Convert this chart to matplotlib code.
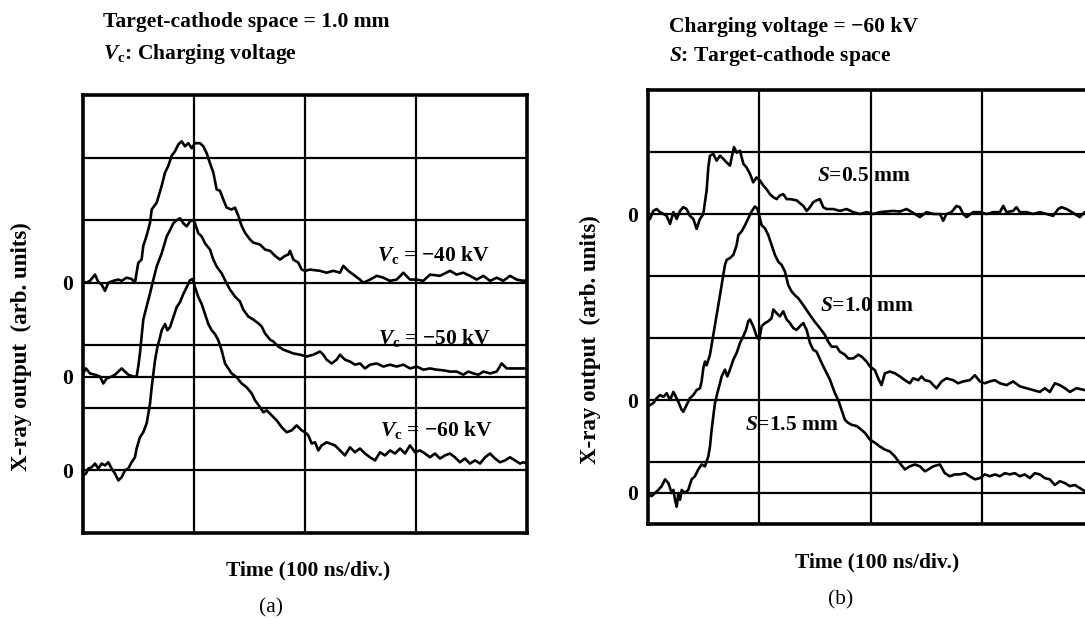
import matplotlib
matplotlib.use("Agg")
import matplotlib.pyplot as plt
import numpy as np

# Fonts: Times-like bold everywhere, italic symbols via mathtext
plt.rcParams["font.family"] = "Liberation Serif"
plt.rcParams["font.weight"] = "bold"
plt.rcParams["mathtext.fontset"] = "custom"
plt.rcParams["mathtext.rm"] = "Liberation Serif:bold"
plt.rcParams["mathtext.it"] = "Liberation Serif:bold:italic"
plt.rcParams["mathtext.bf"] = "Liberation Serif:bold"

# ---------------- data, panel (a): time in divisions, output in divisions above its own zero
t_40 = [0.0, 0.027, 0.063, 0.108, 0.138, 0.168, 0.198, 0.228, 0.273, 0.318, 0.348, 0.393, 0.438, 0.468,
        0.498, 0.528, 0.543, 0.573, 0.604, 0.619, 0.664, 0.709, 0.739, 0.769, 0.799, 0.829, 0.859, 0.889,
        0.919, 0.949, 0.979, 1.009, 1.054, 1.084, 1.114, 1.144, 1.174, 1.204, 1.234, 1.264, 1.294, 1.339,
        1.369, 1.399, 1.429, 1.459, 1.505, 1.535, 1.595, 1.640, 1.685, 1.730, 1.775, 1.820, 1.850, 1.865,
        1.895, 1.940, 1.970, 2.000, 2.045, 2.135, 2.195, 2.255, 2.315, 2.345, 2.390, 2.435, 2.495, 2.526,
        2.586, 2.646, 2.706, 2.766, 2.826, 2.886, 2.946, 3.006, 3.066, 3.126, 3.216, 3.306, 3.366, 3.426,
        3.486, 3.546, 3.607, 3.667, 3.727, 3.787, 3.847, 3.907, 3.967, 4.0]
v_40 = [0.02, 0.0, 0.03, 0.13, 0.01, -0.03, -0.13, 0.0, 0.03, 0.05, 0.03, 0.08, 0.06, 0.0,
        0.32, 0.37, 0.59, 0.75, 0.96, 1.17, 1.28, 1.55, 1.76, 1.87, 2.03, 2.10, 2.21, 2.26,
        2.18, 2.23, 2.15, 2.23, 2.23, 2.18, 2.07, 1.91, 1.76, 1.49, 1.47, 1.33, 1.20, 1.17,
        1.20, 1.07, 0.91, 0.80, 0.69, 0.64, 0.61, 0.53, 0.51, 0.43, 0.37, 0.43, 0.45, 0.51,
        0.37, 0.32, 0.21, 0.19, 0.21, 0.19, 0.16, 0.19, 0.16, 0.27, 0.19, 0.13, 0.05, 0.0,
        0.05, 0.11, 0.08, 0.03, 0.05, 0.16, 0.05, 0.05, 0.03, 0.13, 0.11, 0.19, 0.13, 0.16,
        0.11, 0.05, 0.11, 0.03, 0.08, 0.03, 0.11, 0.05, 0.03, 0.04]

t_50 = [0.0, 0.027, 0.063, 0.108, 0.153, 0.183, 0.213, 0.258, 0.288, 0.318, 0.348, 0.378, 0.408, 0.453,
        0.483, 0.498, 0.513, 0.528, 0.543, 0.573, 0.604, 0.634, 0.664, 0.709, 0.754, 0.784, 0.814, 0.844,
        0.874, 0.904, 0.934, 0.964, 0.994, 1.009, 1.039, 1.069, 1.099, 1.144, 1.174, 1.204, 1.249, 1.294,
        1.324, 1.369, 1.414, 1.444, 1.489, 1.535, 1.580, 1.610, 1.640, 1.685, 1.715, 1.760, 1.805, 1.850,
        1.895, 1.955, 2.015, 2.075, 2.135, 2.165, 2.195, 2.240, 2.285, 2.315, 2.360, 2.405, 2.450, 2.495,
        2.541, 2.586, 2.646, 2.706, 2.766, 2.826, 2.886, 2.946, 3.006, 3.066, 3.126, 3.186, 3.246, 3.306,
        3.366, 3.426, 3.471, 3.517, 3.562, 3.607, 3.667, 3.727, 3.772, 3.817, 3.877, 3.967, 4.0]
v_50 = [0.05, 0.13, 0.05, 0.03, 0.0, -0.11, -0.03, 0.0, 0.03, 0.08, 0.13, 0.08, 0.03, 0.0,
        0.0, 0.16, 0.37, 0.64, 0.91, 1.12, 1.33, 1.55, 1.76, 1.97, 2.24, 2.34, 2.45, 2.50,
        2.53, 2.45, 2.40, 2.48, 2.50, 2.45, 2.29, 2.24, 2.13, 2.03, 1.87, 1.76, 1.65, 1.49,
        1.39, 1.28, 1.20, 1.07, 0.96, 0.91, 0.85, 0.80, 0.69, 0.59, 0.56, 0.48, 0.43, 0.40,
        0.37, 0.35, 0.32, 0.35, 0.40, 0.35, 0.27, 0.21, 0.27, 0.35, 0.27, 0.24, 0.19, 0.21,
        0.13, 0.19, 0.21, 0.16, 0.19, 0.16, 0.19, 0.13, 0.16, 0.11, 0.13, 0.11, 0.10, 0.08,
        0.08, 0.03, 0.08, 0.05, 0.03, 0.08, 0.05, 0.08, 0.21, 0.13, 0.13, 0.13, 0.13]

t_60 = [0.0, 0.027, 0.048, 0.078, 0.108, 0.138, 0.168, 0.198, 0.228, 0.258, 0.288, 0.318, 0.348, 0.378,
        0.408, 0.438, 0.468, 0.483, 0.513, 0.543, 0.573, 0.589, 0.604, 0.619, 0.634, 0.649, 0.670, 0.694,
        0.709, 0.739, 0.760, 0.784, 0.814, 0.844, 0.874, 0.904, 0.934, 0.964, 0.988, 1.009, 1.039, 1.069,
        1.099, 1.129, 1.159, 1.189, 1.219, 1.249, 1.279, 1.309, 1.339, 1.384, 1.429, 1.474, 1.520, 1.550,
        1.595, 1.625, 1.655, 1.700, 1.745, 1.790, 1.835, 1.880, 1.925, 1.970, 2.000, 2.030, 2.060, 2.090,
        2.120, 2.150, 2.195, 2.225, 2.270, 2.315, 2.360, 2.405, 2.450, 2.495, 2.541, 2.586, 2.631, 2.676,
        2.721, 2.766, 2.811, 2.856, 2.901, 2.946, 2.991, 3.036, 3.081, 3.126, 3.171, 3.216, 3.261, 3.306,
        3.351, 3.396, 3.441, 3.486, 3.532, 3.577, 3.622, 3.667, 3.712, 3.757, 3.802, 3.847, 3.892, 3.937,
        3.967, 4.0]
v_60 = [-0.08, -0.05, 0.03, 0.05, 0.11, 0.03, 0.11, 0.08, 0.13, 0.03, -0.05, -0.16, -0.11, 0.0,
        0.03, 0.13, 0.21, 0.35, 0.53, 0.61, 0.75, 0.91, 1.07, 1.33, 1.55, 1.76, 1.97, 2.13,
        2.24, 2.34, 2.24, 2.29, 2.45, 2.61, 2.69, 2.82, 2.93, 3.04, 3.06, 2.93, 2.77, 2.66,
        2.50, 2.34, 2.24, 2.18, 2.08, 1.92, 1.71, 1.63, 1.55, 1.49, 1.39, 1.33, 1.23, 1.12,
        1.01, 0.93, 0.96, 0.88, 0.80, 0.69, 0.61, 0.64, 0.72, 0.64, 0.61, 0.56, 0.43, 0.45,
        0.32, 0.40, 0.45, 0.43, 0.40, 0.32, 0.24, 0.37, 0.29, 0.35, 0.27, 0.21, 0.16, 0.29,
        0.24, 0.32, 0.27, 0.35, 0.27, 0.40, 0.29, 0.32, 0.27, 0.21, 0.27, 0.19, 0.24, 0.27,
        0.21, 0.13, 0.19, 0.11, 0.16, 0.11, 0.21, 0.27, 0.19, 0.13, 0.16, 0.21, 0.16, 0.11,
        0.13, 0.11]

# ---------------- data, panel (b)
t_s05 = [0.0, 0.018, 0.048, 0.078, 0.108, 0.138, 0.168, 0.198, 0.228, 0.258, 0.288, 0.317, 0.347, 0.377,
         0.407, 0.437, 0.467, 0.497, 0.527, 0.542, 0.557, 0.587, 0.617, 0.647, 0.677, 0.707, 0.737, 0.752,
         0.773, 0.797, 0.827, 0.857, 0.886, 0.916, 0.946, 0.976, 1.006, 1.036, 1.066, 1.096, 1.126, 1.156,
         1.186, 1.216, 1.246, 1.276, 1.336, 1.396, 1.426, 1.456, 1.485, 1.515, 1.545, 1.575, 1.605, 1.665,
         1.725, 1.785, 1.845, 1.905, 1.965, 2.024, 2.084, 2.144, 2.204, 2.264, 2.324, 2.354, 2.399, 2.444,
         2.504, 2.564, 2.624, 2.653, 2.683, 2.728, 2.773, 2.803, 2.833, 2.863, 2.923, 2.983, 3.043, 3.103,
         3.163, 3.193, 3.223, 3.282, 3.312, 3.342, 3.402, 3.462, 3.522, 3.582, 3.642, 3.687, 3.717, 3.762,
         3.792, 3.836, 3.881, 3.926, 4.0]
v_s05 = [-0.04, -0.08, 0.05, 0.08, 0.03, 0.0, -0.03, -0.16, 0.03, -0.08, 0.05, 0.11, 0.08, -0.03,
         -0.08, -0.24, -0.08, 0.0, 0.38, 0.75, 0.94, 0.97, 0.86, 0.94, 0.89, 0.83, 0.78, 0.91,
         1.08, 0.99, 1.02, 0.81, 0.75, 0.65, 0.51, 0.59, 0.54, 0.46, 0.40, 0.32, 0.27, 0.24,
         0.30, 0.32, 0.24, 0.24, 0.22, 0.13, 0.05, 0.11, 0.19, 0.22, 0.24, 0.11, 0.08, 0.08,
         0.05, 0.08, 0.03, 0.0, 0.03, 0.0, 0.03, 0.04, 0.05, 0.04, 0.08, 0.05, 0.0, -0.05,
         0.03, 0.0, 0.0, -0.11, 0.0, 0.03, 0.13, 0.11, 0.0, -0.05, 0.03, 0.03, 0.0, 0.03,
         0.03, 0.13, 0.03, 0.05, 0.11, 0.03, 0.03, 0.0, 0.03, 0.0, -0.03, 0.08, 0.11, 0.08,
         0.05, 0.0, -0.05, 0.03, 0.02]

t_s10 = [0.0, 0.018, 0.048, 0.078, 0.108, 0.138, 0.168, 0.198, 0.228, 0.243, 0.273, 0.303, 0.317, 0.347,
         0.377, 0.407, 0.437, 0.467, 0.482, 0.497, 0.512, 0.527, 0.557, 0.572, 0.587, 0.617, 0.647, 0.677,
         0.692, 0.707, 0.737, 0.767, 0.797, 0.812, 0.842, 0.872, 0.901, 0.931, 0.961, 0.982, 1.006, 1.021,
         1.051, 1.081, 1.111, 1.141, 1.171, 1.201, 1.231, 1.261, 1.291, 1.321, 1.351, 1.396, 1.426, 1.456,
         1.500, 1.545, 1.590, 1.620, 1.650, 1.695, 1.725, 1.770, 1.800, 1.845, 1.890, 1.920, 1.965, 1.995,
         2.040, 2.069, 2.099, 2.129, 2.174, 2.219, 2.264, 2.309, 2.354, 2.384, 2.429, 2.459, 2.489, 2.534,
         2.564, 2.594, 2.639, 2.683, 2.743, 2.788, 2.833, 2.893, 2.938, 2.983, 3.028, 3.073, 3.118, 3.163,
         3.223, 3.282, 3.342, 3.402, 3.462, 3.522, 3.567, 3.612, 3.657, 3.702, 3.747, 3.792, 3.851, 3.926,
         4.0]
v_s10 = [-0.10, -0.08, -0.05, 0.03, 0.08, 0.05, 0.11, 0.0, 0.13, 0.08, -0.03, -0.16, -0.19, -0.08,
         0.03, 0.08, 0.16, 0.19, 0.30, 0.51, 0.62, 0.56, 0.73, 0.89, 1.05, 1.37, 1.69, 2.02,
         2.18, 2.26, 2.29, 2.34, 2.50, 2.66, 2.72, 2.82, 2.93, 3.04, 3.12, 3.09, 2.93, 2.82,
         2.77, 2.66, 2.50, 2.34, 2.23, 2.18, 2.07, 1.85, 1.75, 1.69, 1.64, 1.53, 1.45, 1.37,
         1.26, 1.16, 1.05, 0.94, 0.86, 0.86, 0.78, 0.73, 0.67, 0.67, 0.73, 0.70, 0.62, 0.54,
         0.48, 0.35, 0.24, 0.43, 0.46, 0.43, 0.38, 0.32, 0.27, 0.35, 0.32, 0.38, 0.32, 0.30,
         0.24, 0.19, 0.30, 0.35, 0.32, 0.27, 0.30, 0.32, 0.40, 0.30, 0.27, 0.30, 0.32, 0.27,
         0.24, 0.30, 0.22, 0.19, 0.16, 0.13, 0.19, 0.13, 0.27, 0.24, 0.19, 0.13, 0.19, 0.16,
         0.15]

t_s15 = [0.0, 0.033, 0.063, 0.093, 0.123, 0.153, 0.183, 0.213, 0.228, 0.243, 0.258, 0.273, 0.288, 0.303,
         0.332, 0.362, 0.392, 0.422, 0.452, 0.482, 0.512, 0.542, 0.557, 0.572, 0.587, 0.602, 0.623, 0.647,
         0.662, 0.692, 0.713, 0.737, 0.767, 0.797, 0.827, 0.857, 0.881, 0.901, 0.916, 0.946, 0.976, 1.000,
         1.021, 1.051, 1.081, 1.111, 1.126, 1.156, 1.186, 1.216, 1.246, 1.276, 1.306, 1.336, 1.366, 1.396,
         1.426, 1.456, 1.485, 1.515, 1.560, 1.590, 1.635, 1.680, 1.710, 1.740, 1.770, 1.800, 1.830, 1.875,
         1.905, 1.950, 1.995, 2.040, 2.084, 2.129, 2.174, 2.219, 2.264, 2.309, 2.354, 2.399, 2.444, 2.489,
         2.519, 2.564, 2.624, 2.668, 2.713, 2.758, 2.803, 2.848, 2.893, 2.938, 2.983, 3.028, 3.073, 3.118,
         3.163, 3.208, 3.252, 3.297, 3.342, 3.387, 3.432, 3.477, 3.522, 3.567, 3.612, 3.657, 3.702, 3.747,
         3.792, 3.836, 3.881, 3.926, 4.0]
v_s15 = [-0.03, -0.05, 0.0, 0.05, 0.11, 0.22, 0.16, 0.0, 0.05, -0.11, -0.22, 0.0, -0.11, 0.05,
         0.0, 0.05, 0.22, 0.27, 0.38, 0.46, 0.43, 0.59, 0.75, 1.02, 1.24, 1.45, 1.61, 1.77,
         1.88, 1.99, 1.88, 1.99, 2.15, 2.26, 2.42, 2.53, 2.63, 2.77, 2.80, 2.69, 2.53, 2.47,
         2.69, 2.74, 2.77, 2.82, 2.96, 2.90, 2.85, 2.93, 2.80, 2.74, 2.66, 2.63, 2.69, 2.74,
         2.63, 2.42, 2.31, 2.28, 2.10, 1.99, 1.83, 1.61, 1.50, 1.34, 1.18, 1.13, 1.10, 1.08,
         1.04, 0.97, 0.86, 0.81, 0.75, 0.70, 0.67, 0.59, 0.48, 0.38, 0.43, 0.46, 0.43, 0.35,
         0.38, 0.43, 0.46, 0.32, 0.27, 0.30, 0.30, 0.32, 0.27, 0.22, 0.24, 0.30, 0.27, 0.30,
         0.27, 0.32, 0.30, 0.32, 0.27, 0.30, 0.24, 0.32, 0.30, 0.24, 0.22, 0.13, 0.19, 0.16,
         0.11, 0.13, 0.08, 0.03, 0.05]

# zero lines of the stacked traces (in divisions) and trace labels
zero_a = [4.0, 2.5, 1.0]
labels_a = ["$V_{\\rm c}$ = \u221240 kV", "$V_{\\rm c}$ = \u221250 kV", "$V_{\\rm c}$ = \u221260 kV"]
zero_b = [5.0, 2.0, 0.5]
labels_b = ["$S$=0.5 mm", "$S$=1.0 mm", "$S$=1.5 mm"]

W, H = 1085, 619
FS = 15.5
fig = plt.figure(figsize=(W / 100, H / 100), dpi=100)

ax_a = fig.add_axes([83 / W, 1 - 533 / H, 444 / W, 438 / H])
ax_b = fig.add_axes([648 / W, 1 - 524 / H, 445 / W, 434 / H])

def setup(ax, zeros):
    ax.set_xlim(0, 4)
    ax.set_ylim(0, 7)
    ax.set_xticks([1, 2, 3])
    ax.set_xticklabels([])
    grid_y = sorted(set([1, 2, 3, 4, 5, 6] + zeros))
    ax.set_yticks(grid_y)
    ax.set_yticklabels(["0" if g in zeros else "" for g in grid_y], fontsize=FS, fontweight="bold")
    ax.tick_params(length=0, pad=7)
    ax.grid(True, color="black", linewidth=1.6)
    for s in ax.spines.values():
        s.set_linewidth(2.6)
    ax.set_axisbelow(True)

setup(ax_a, zero_a)
setup(ax_b, zero_b)

for t, v, z in [(t_40, v_40, zero_a[0]), (t_50, v_50, zero_a[1]), (t_60, v_60, zero_a[2])]:
    ax_a.plot(t, np.array(v) + z, color="black", linewidth=1.9)
for t, v, z in [(t_s05, v_s05, zero_b[0]), (t_s10, v_s10, zero_b[1]), (t_s15, v_s15, zero_b[2])]:
    ax_b.plot(t, np.array(v) + z, color="black", linewidth=1.9)

# trace labels
for lab, (x, y) in zip(labels_a, [(2.65, 4.44), (2.66, 3.12), (2.68, 1.65)]):
    ax_a.text(x, y, lab, fontsize=FS, fontweight="bold", va="center", ha="left")
for lab, (x, y) in zip(labels_b, [(1.52, 5.61), (1.545, 3.52), (0.87, 1.6)]):
    ax_b.text(x, y, lab, fontsize=FS, fontweight="bold", va="center", ha="left")

# headers, axis titles, panel letters
fig.text(103 / W, 1 - 22 / H, "Target-cathode space = 1.0 mm", fontsize=FS, fontweight="bold", va="center")
fig.text(103 / W, 1 - 54 / H, "$V_{\\rm c}$: Charging voltage", fontsize=FS, fontweight="bold", va="center")
fig.text(669 / W, 1 - 27 / H, "Charging voltage = \u221260 kV", fontsize=FS, fontweight="bold", va="center")
fig.text(669 / W, 1 - 56 / H, "$S$: Target-cathode space", fontsize=FS, fontweight="bold", va="center")

fig.text(21 / W, 1 - 347 / H, "X-ray output  (arb. units)", rotation=90, fontsize=16.5,
         fontweight="bold", ha="center", va="center")
fig.text(590 / W, 1 - 340 / H, "X-ray output  (arb. units)", rotation=90, fontsize=16.5,
         fontweight="bold", ha="center", va="center")
fig.text(308 / W, 1 - 570 / H, "Time (100 ns/div.)", fontsize=FS, fontweight="bold", ha="center", va="center")
fig.text(877 / W, 1 - 562 / H, "Time (100 ns/div.)", fontsize=FS, fontweight="bold", ha="center", va="center")
fig.text(271 / W, 1 - 608 / H, "(a)", fontsize=FS, fontweight="normal", ha="center", va="center")
fig.text(841 / W, 1 - 600 / H, "(b)", fontsize=FS, fontweight="normal", ha="center", va="center")

fig.savefig("out.png", dpi=100)
